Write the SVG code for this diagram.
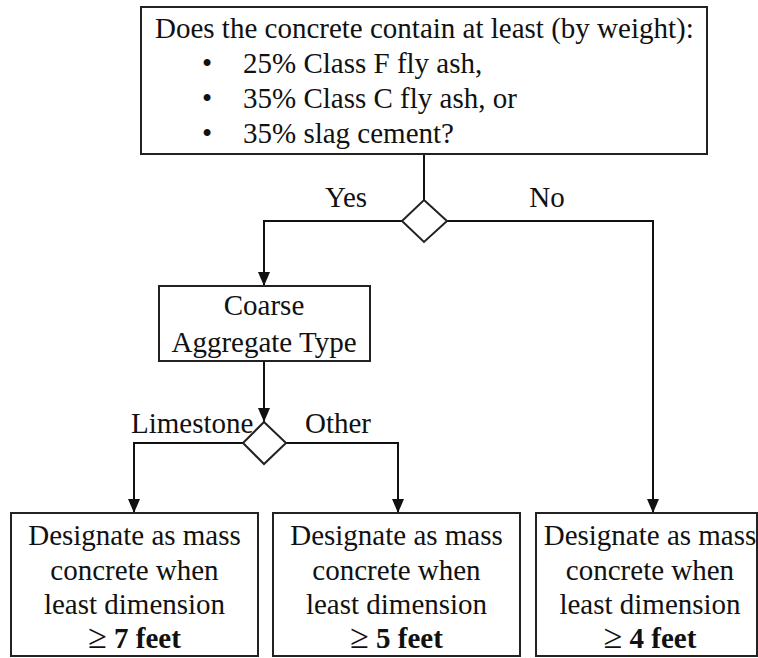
<svg xmlns="http://www.w3.org/2000/svg" width="758" height="658" viewBox="0 0 758 658">
<defs>
<style>
.box{fill:#fff;stroke:#222;stroke-width:2}
.ln{fill:none;stroke:#111;stroke-width:2}
.t{font-family:"Liberation Serif","Times New Roman",serif;font-size:29px;fill:#111}
.c{text-anchor:middle}
.b{font-weight:bold}
.ge{font-size:34px}
</style>
<marker id="ah" markerWidth="14" markerHeight="14" viewBox="0 0 14 14" refX="14" refY="7" orient="auto" markerUnits="userSpaceOnUse">
<path d="M0,1 L14,7 L0,13 z" fill="#111"/>
</marker>
</defs>
<rect width="758" height="658" fill="#fff"/>
<g id="connectors">
<line class="ln" x1="424" y1="154" x2="424" y2="200"/>
<polyline class="ln" points="402,221 264,221 264,286" marker-end="url(#ah)"/>
<polyline class="ln" points="447,221 653,221 653,513" marker-end="url(#ah)"/>
<line class="ln" x1="264" y1="361" x2="264" y2="422" marker-end="url(#ah)"/>
<polyline class="ln" points="243,443 134,443 134,513" marker-end="url(#ah)"/>
<polyline class="ln" points="286,443 398,443 398,513" marker-end="url(#ah)"/>
<text class="t c" x="346" y="207">Yes</text>
<text class="t c" x="547" y="207">No</text>
<text class="t" x="131" y="433">Limestone</text>
<text class="t" x="305" y="433">Other</text>
</g>
<g id="question">
<rect class="box" x="141" y="7" width="566" height="147"/>
<text class="t" x="155" y="38">Does the concrete contain at least (by weight):</text>
<text class="t" x="202" y="73">•</text><text class="t" x="243" y="73">25% Class F fly ash,</text>
<text class="t" x="202" y="108">•</text><text class="t" x="243" y="108">35% Class C fly ash, or</text>
<text class="t" x="202" y="143">•</text><text class="t" x="243" y="143">35% slag cement?</text>
</g>
<g id="decision1">
<polygon class="box" points="424,200 447,221 424,242 402,221"/>
</g>
<g id="coarse">
<rect class="box" x="159" y="286" width="211" height="75"/>
<text class="t c" x="264" y="315">Coarse</text>
<text class="t c" x="264" y="352">Aggregate Type</text>
</g>
<g id="decision2">
<polygon class="box" points="264,422 286,443 264,464 243,443"/>
</g>
<g id="result7">
<rect class="box" x="11" y="513" width="247" height="143"/>
<text class="t c" x="134.5" y="545">Designate as mass</text>
<text class="t c" x="134.5" y="580">concrete when</text>
<text class="t c" x="134.5" y="614">least dimension</text>
<text class="t c" x="134.5" y="648"><tspan class="ge">≥</tspan> <tspan class="b">7 feet</tspan></text>
</g>
<g id="result5">
<rect class="box" x="273" y="513" width="247" height="143"/>
<text class="t c" x="396.5" y="545">Designate as mass</text>
<text class="t c" x="396.5" y="580">concrete when</text>
<text class="t c" x="396.5" y="614">least dimension</text>
<text class="t c" x="396.5" y="648"><tspan class="ge">≥</tspan> <tspan class="b">5 feet</tspan></text>
</g>
<g id="result4">
<rect class="box" x="536" y="513" width="221" height="143"/>
<text class="t c" x="650" y="545">Designate as mass</text>
<text class="t c" x="650" y="580">concrete when</text>
<text class="t c" x="650" y="614">least dimension</text>
<text class="t c" x="650" y="648"><tspan class="ge">≥</tspan> <tspan class="b">4 feet</tspan></text>
</g>
</svg>
